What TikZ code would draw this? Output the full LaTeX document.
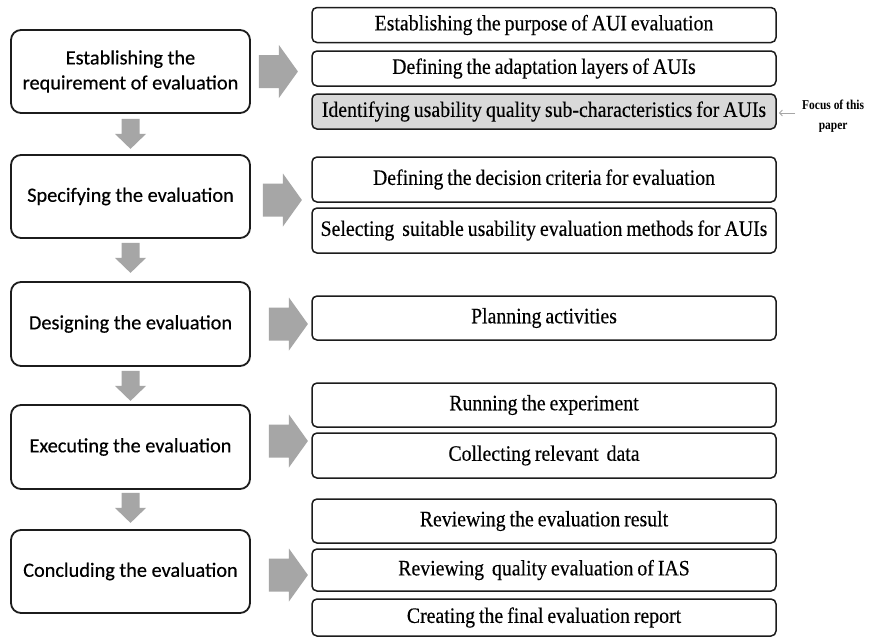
\documentclass[tikz,border=0pt]{standalone}
\usepackage{fontspec}
\setmainfont{Liberation Serif}
\newfontfamily\calfont[FakeBold=0.4]{Carlito}
\newfontfamily\condserif[FakeStretch=0.9,FakeBold=0.25,WordSpace=0.8]{Liberation Serif}
\newfontfamily\notefont[FakeStretch=0.85]{Liberation Serif}
\usetikzlibrary{arrows.meta,calc}
\definecolor{arrgray}{HTML}{A6A6A6}
\definecolor{boxgray}{HTML}{D9D9D9}
\definecolor{edgecol}{HTML}{1C1C1C}
\begin{document}
\begin{tikzpicture}[x=1pt,y=-1pt,
  stage/.style={draw=edgecol, line width=1.8pt, rounded corners=10pt, minimum width=239pt,
    minimum height=83pt, align=center, inner sep=2pt,
    font=\calfont\fontsize{20.3}{25}\selectfont},
  task/.style={draw=edgecol, line width=1.5pt, rounded corners=5pt, minimum width=464pt,
    inner sep=0pt, font=\condserif\fontsize{22}{24}\selectfont},
  hilite/.style={fill=boxgray},
  notestyle/.style={font=\notefont\bfseries\fontsize{13.5}{20}\selectfont, align=center, inner sep=0pt},
  notearrow/.style={draw=arrgray, line width=0.9pt, -{Straight Barb[length=3pt,width=6pt]}},
  rarrow/.pic={\fill[arrgray] (0,-16.5)--(20,-16.5)--(20,-26.5)--(39,0)--(20,26.5)--(20,16.5)--(0,16.5)--cycle;},
  darrow/.pic={\fill[arrgray] (-9,0)--(9,0)--(9,15)--(15.5,15)--(0,30)--(-15.5,15)--(-9,15)--cycle;}
]
\useasboundingbox[fill=white] (0,0) rectangle (877,638);

% stages
\node[stage] (s1) at (130.5,71.5) {Establishing the\\requirement of evaluation};
\node[stage] (s2) at (130.5,196.5) {Specifying the evaluation};
\node[stage, minimum height=84pt] (s3) at (130.5,324) {Designing the evaluation};
\node[stage, minimum height=84pt] (s4) at (130.5,447) {Executing the evaluation};
\node[stage] (s5) at (130.5,571.5) {Concluding the evaluation};

% down arrows between stages
\pic at ($(s1.south)+(0,5)$) {darrow};
\pic at ($(s2.south)+(0,4)$) {darrow};
\pic at ($(s3.south)+(0,4)$) {darrow};
\pic at ($(s4.south)+(0,3)$) {darrow};

% right arrows to tasks
\pic at ($(s1.east)+(8,0)$) {rarrow};
\pic at ($(s2.east)+(12,3.5)$) {rarrow};
\pic at ($(s3.east)+(18,0)$) {rarrow};
\pic at ($(s4.east)+(18,-6)$) {rarrow};
\pic at ($(s5.east)+(18,3.5)$) {rarrow};

% tasks
\node[task, minimum height=35pt] (ta) at (544,25) {Establishing the purpose of AUI evaluation};
\node[task, minimum height=35pt] (tb) at (544,68.5) {Defining the adaptation layers of AUIs};
\node[task, hilite, minimum height=35pt] (tc) at (544,111.5) {Identifying usability quality sub-characteristics for AUIs};
\node[task, minimum height=45pt] (td) at (544,179.5) {Defining the decision criteria for evaluation};
\node[task, minimum height=45pt] (te) at (544,230.5) {Selecting\ \ suitable usability evaluation methods for AUIs};
\node[task, minimum height=44pt] (tf) at (544,318) {Planning activities};
\node[task, minimum height=44pt] (tg) at (544,405) {Running the experiment};
\node[task, minimum height=45pt] (th) at (544,455.5) {Collecting relevant\ \ data};
\node[task, minimum height=44pt] (ti) at (544,521) {Reviewing the evaluation result};
\node[task, minimum height=42pt] (tj) at (544,570) {Reviewing\ \ quality evaluation of IAS};
\node[task, minimum height=37pt] (tk) at (544,617.5) {Creating the final evaluation report};

% focus note
\node[notestyle, anchor=west] (note) at (802,116) {Focus of this\\paper};
\draw[notearrow] ($(note.west)+(-7,-3)$) -- ($(tc.east |- note.west)+(2,-3)$);
\end{tikzpicture}
\end{document}
